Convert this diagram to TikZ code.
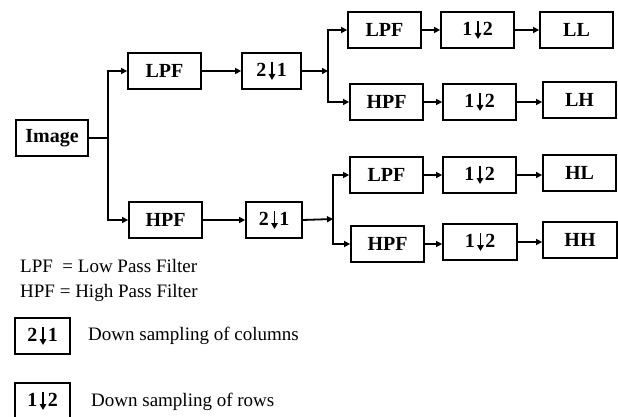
\documentclass[tikz,border=0pt]{standalone}
\usepackage{fontspec}
\setmainfont{Liberation Serif}
\usetikzlibrary{arrows.meta}
\newcommand{\dnarrow}{\kern2.5pt\tikz[baseline=0pt,x=1pt,y=1pt]\draw[line width=1.7pt,-{Triangle[length=6pt,width=6.5pt]}] (0,14.5) -- (0,-3.5);\kern1.5pt}
\begin{document}
\begin{tikzpicture}[x=1pt,y=-1pt,
  blk/.style={draw,line width=1.8pt,minimum height=36pt,inner sep=0pt,font=\fontsize{20}{22}\selectfont\bfseries},
  conn/.style={line width=1.8pt,-{Triangle[length=6pt,width=6pt]}},
  wire/.style={line width=1.8pt},
  legtxt/.style={anchor=west,inner sep=0pt,font=\fontsize{19}{22}\selectfont}]
\useasboundingbox (0,0) rectangle (618,417);
% first stage
\node[blk,minimum width=72pt] (img) at (52,138) {Image};
\node[blk,minimum width=73pt] (lpf1) at (164.5,71) {LPF};
\node[blk,minimum width=59pt] (ds1a) at (271.5,71) {2\dnarrow1};
\node[blk,minimum width=73pt] (hpf1) at (165.5,220) {HPF};
\node[blk,minimum width=56pt] (ds1b) at (274,220) {2\dnarrow1};
\coordinate (s0) at (108,138);
\draw[wire] (img.east) -- (s0);
\draw[conn] (s0) |- (lpf1.west);
\draw[conn] (s0) |- (hpf1.west);
\draw[conn] (lpf1) -- (ds1a);
\draw[conn] (hpf1) -- (ds1b);
% upper branch
\coordinate (sa) at (328,71);
\node[blk,minimum width=73pt] (lpfa) at (384.5,30) {LPF};
\node[blk,minimum width=73pt] (dsa) at (477.5,30) {1\dnarrow2};
\node[blk,minimum width=73pt] (ll) at (576.5,30) {LL};
\node[blk,minimum width=73pt] (hpfb) at (386.5,102) {HPF};
\node[blk,minimum width=73pt] (dsb) at (479.5,102) {1\dnarrow2};
\node[blk,minimum width=73pt] (lh) at (579.5,100) {LH};
\draw[conn] (ds1a.east) -- (sa);
\draw[conn] (sa) |- (lpfa.west);
\draw[conn] (sa) |- (hpfb.west);
\draw[conn] (lpfa) -- (dsa);
\draw[conn] (dsa) -- (ll);
\draw[conn] (hpfb.east) -- (dsb.west |- hpfb.east);
\draw[conn] (dsb.east) -- (lh.west |- dsb.east);
% lower branch
\coordinate (sb) at (333,219);
\node[blk,minimum width=73pt] (lpfc) at (386.5,175) {LPF};
\node[blk,minimum width=73pt] (dsc) at (479.5,175) {1\dnarrow2};
\node[blk,minimum width=73pt] (hl) at (579.5,173) {HL};
\node[blk,minimum width=73pt] (hpfd) at (387.5,244) {HPF};
\node[blk,minimum width=74pt] (dsd) at (480,242) {1\dnarrow2};
\node[blk,minimum width=74pt] (hh) at (580,240) {HH};
\draw[conn] (ds1b.east) -- (sb);
\draw[conn] (sb) |- (lpfc.west);
\draw[conn] (sb) |- (hpfd.west);
\draw[conn] (lpfc) -- (dsc);
\draw[conn] (dsc.east) -- (hl.west |- dsc.east);
\draw[conn] (hpfd.east) -- (dsd.west |- hpfd.east);
\draw[conn] (dsd.east) -- (hh.west |- dsd.east);
% legend
\node[legtxt] (t1) at (20,266) {LPF\ \ = Low Pass Filter};
\node[legtxt] (t2) at (20,293) {HPF = High Pass Filter};
\node[blk,minimum width=55pt] (k1) at (42.5,336) {2\dnarrow1};
\node[legtxt] (k1t) at (88,336) {Down sampling of columns};
\node[blk,minimum width=55pt] (k2) at (42.5,401) {1\dnarrow2};
\node[legtxt] (k2t) at (91,402) {Down sampling of rows};
\end{tikzpicture}
\end{document}
